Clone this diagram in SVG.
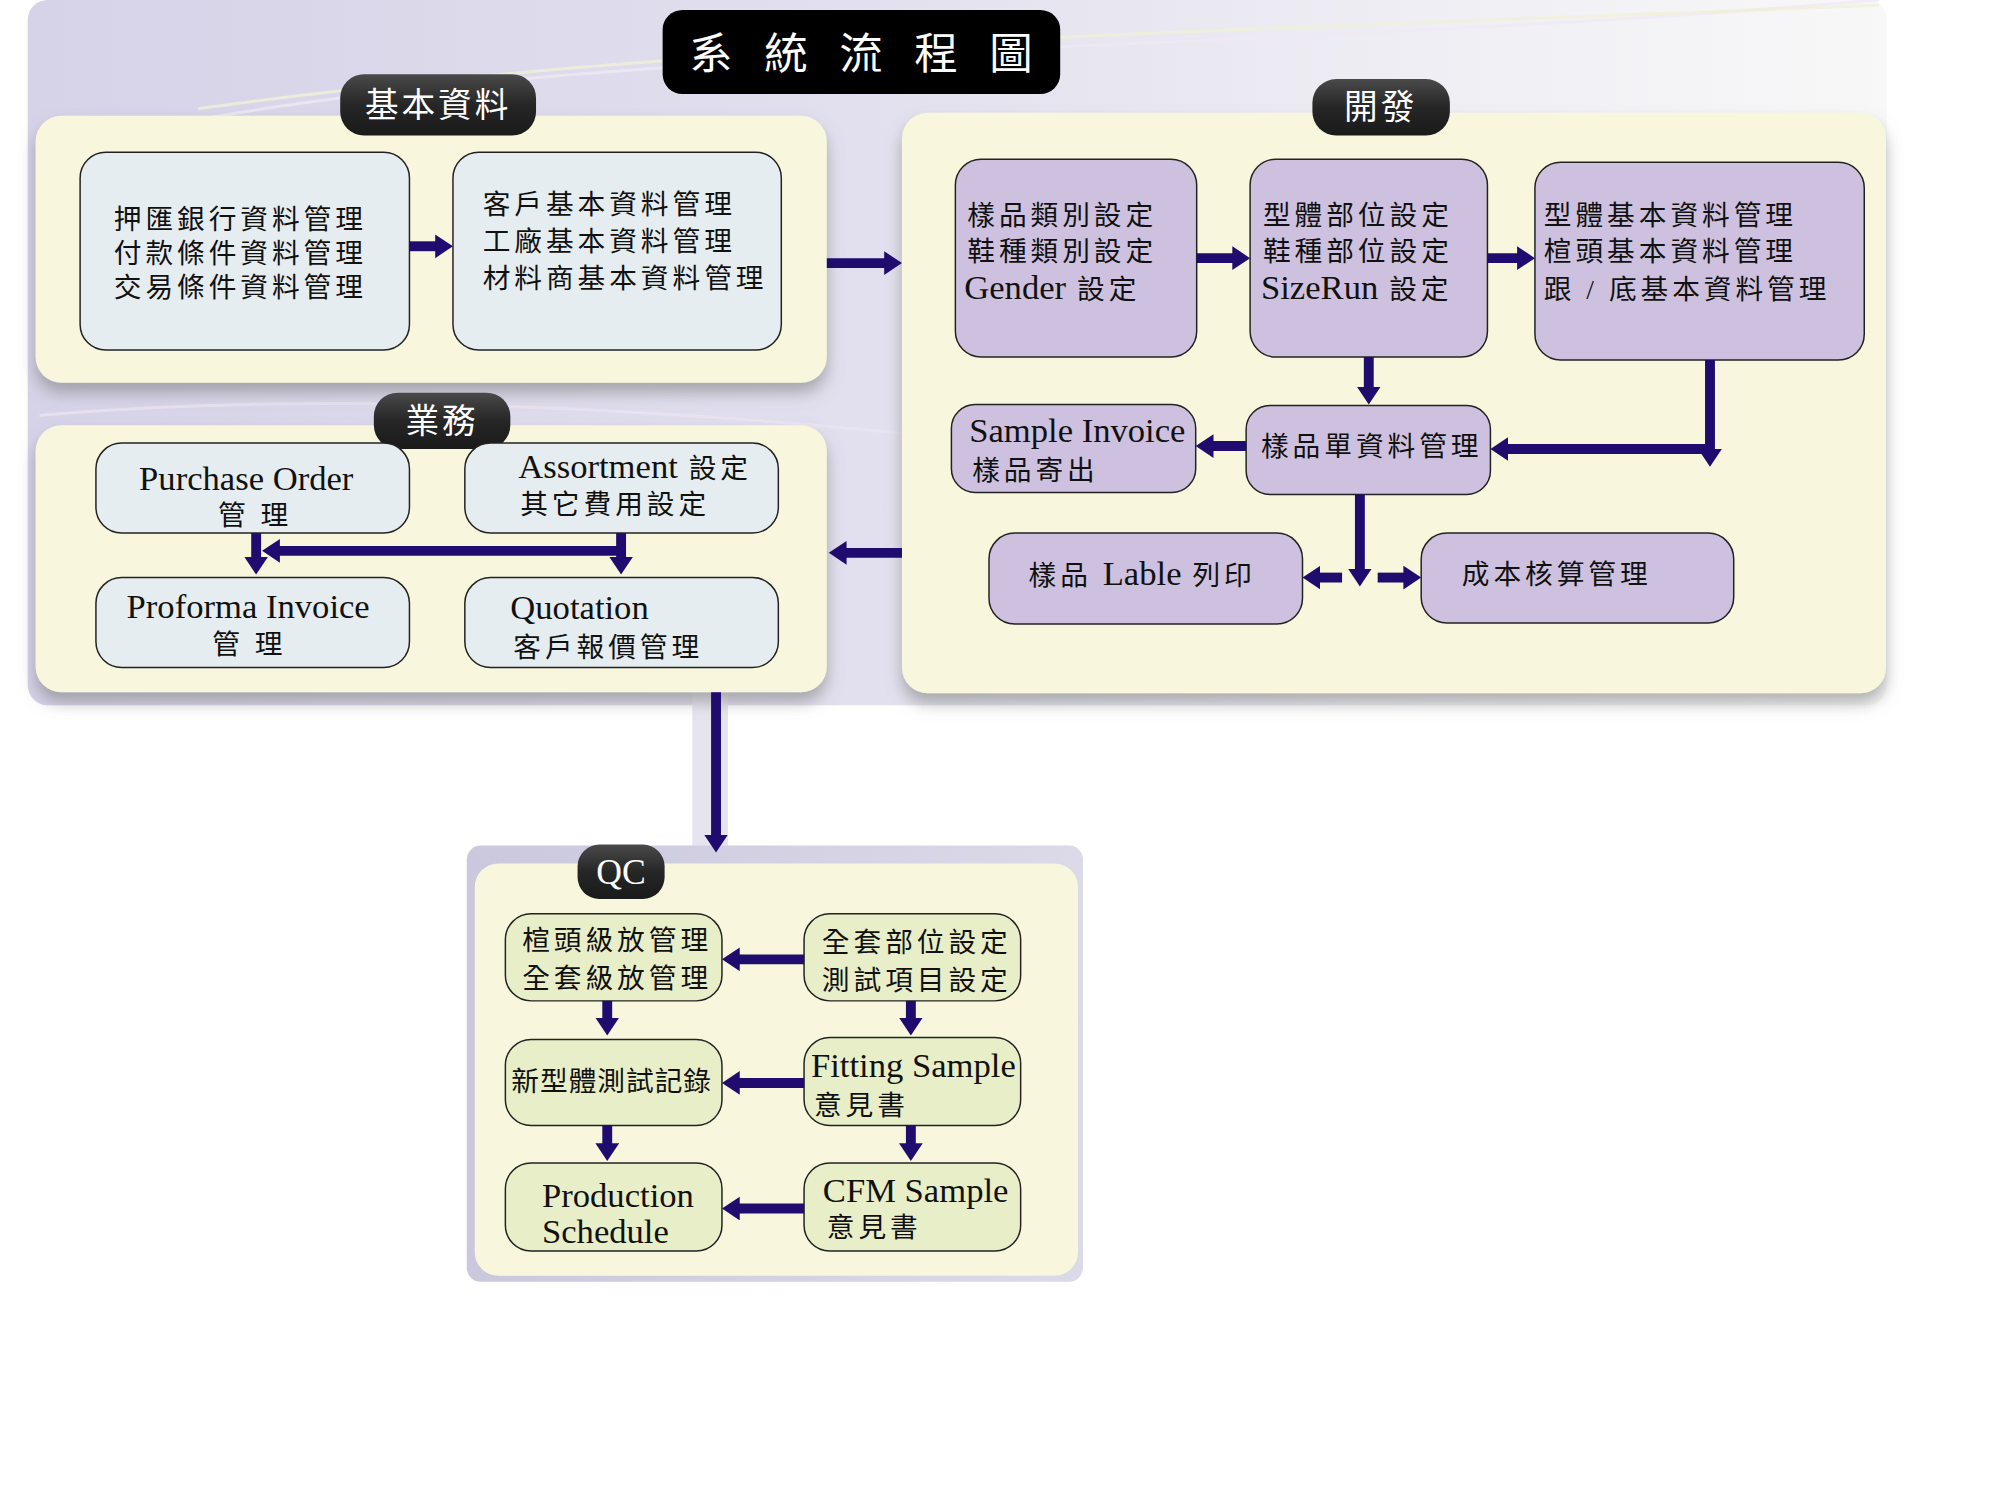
<svg xmlns="http://www.w3.org/2000/svg" width="2000" height="1500" viewBox="0 0 2000 1500">
<defs>
<style>
.t{font-family:"Liberation Serif","Noto Sans CJK TC",serif;fill:#111;}
.cj{font-size:28px;letter-spacing:4px;}
.la{font-size:35px;letter-spacing:0px;}
.tab{font-family:"Noto Sans CJK TC","Liberation Serif",sans-serif;fill:#fff;font-size:34px;letter-spacing:3px;text-anchor:middle;}
.panel{fill:#f8f7dd;}
.bb{fill:#e6edf0;stroke:#222;stroke-width:1.5;}
.pb{fill:#cdc1df;stroke:#222;stroke-width:1.5;}
.gb{fill:#e8eec8;stroke:#222;stroke-width:1.5;}
.ar{fill:none;stroke:#1f0c6e;stroke-width:10;marker-end:url(#ah);}
.tb{fill:url(#tabg);}
</style>
<marker id="ah" markerUnits="userSpaceOnUse" markerWidth="20" markerHeight="26" refX="2" refY="12" orient="auto"><path d="M0,0 L18,12 L0,24 z" fill="#1f0c6e"/></marker>
<linearGradient id="bg" x1="0" y1="0" x2="1" y2="0">
<stop offset="0" stop-color="#d6d2e8"/>
<stop offset="0.45" stop-color="#e2e0ee"/>
<stop offset="0.75" stop-color="#efeef4"/>
<stop offset="1" stop-color="#f8f8f8"/>
</linearGradient>
<linearGradient id="tabg" x1="0" y1="0" x2="0" y2="1">
<stop offset="0" stop-color="#4a4a4a"/>
<stop offset="0.5" stop-color="#262626"/>
<stop offset="1" stop-color="#1a1a1a"/>
</linearGradient>
<linearGradient id="qcg" x1="0" y1="0" x2="1" y2="0">
<stop offset="0" stop-color="#cbc8de"/>
<stop offset="1" stop-color="#dcdae8"/>
</linearGradient>
<filter id="sh" x="-10%" y="-10%" width="120%" height="130%">
<feDropShadow dx="0" dy="10" stdDeviation="8" flood-color="#777" flood-opacity="0.55"/>
</filter>
</defs>

<rect width="2000" height="1500" fill="#fff"/>
<g id="diagram" transform="scale(0.989)">
<g id="background">
<rect x="28" y="0" width="1880" height="713" rx="20" fill="url(#bg)"/>
<path d="M60,150 C500,40 1200,60 1900,0" fill="none" stroke="#efe8f4" stroke-width="3" opacity="0.8"/>
<path d="M200,110 C700,40 1300,30 1900,5" fill="none" stroke="#f0f0d8" stroke-width="3" opacity="0.8"/>
<path d="M40,420 C500,380 1200,440 1900,600" fill="none" stroke="#ece6f2" stroke-width="3" opacity="0.7"/>
<rect x="700" y="700" width="36" height="160" fill="#e6e4ef"/>
</g>

<g id="title">
<rect x="670" y="10" width="402" height="85" rx="20" fill="#000"/>
<text x="876" y="70" font-family="Noto Sans CJK TC, sans-serif" font-size="44" fill="#fff" text-anchor="middle" letter-spacing="11">系 統 流 程 圖</text>
</g>

<g id="panel-basic">
<rect x="36" y="117" width="800" height="270" rx="26" class="panel" filter="url(#sh)"/>
<rect x="344" y="75" width="198" height="62" rx="24" class="tb"/>
<text x="443" y="118" class="tab">基本資料</text>
</g>

<g id="panel-dev">
<rect x="912" y="114" width="995" height="587" rx="26" class="panel" filter="url(#sh)"/>
<rect x="1327" y="80" width="139" height="57" rx="24" class="tb"/>
<text x="1396" y="120" class="tab">開發</text>
</g>

<g id="panel-biz">
<rect x="36" y="430" width="800" height="270" rx="26" class="panel" filter="url(#sh)"/>
<rect x="378" y="397" width="138" height="57" rx="24" class="tb"/>
<text x="447" y="438" class="tab">業務</text>
</g>

<g id="panel-qc">
<rect x="472" y="855" width="623" height="441" rx="14" fill="url(#qcg)"/>
<rect x="480" y="873" width="610" height="417" rx="24" class="panel"/>
<rect x="584" y="854" width="88" height="55" rx="22" class="tb"/>
<text x="628" y="894" class="tab" style="font-family:'Liberation Serif',serif;font-size:36px;letter-spacing:0px">QC</text>
</g>

<g id="n-bank">
<rect x="81" y="154" width="333" height="200" rx="26" class="bb"/>
<text class="t cj" x="115" y="232">押匯銀行資料管理</text>
<text class="t cj" x="115" y="266">付款條件資料管理</text>
<text class="t cj" x="115" y="300">交易條件資料管理</text>
</g>
<g id="n-customer">
<rect x="458" y="154" width="332" height="200" rx="26" class="bb"/>
<text class="t cj" x="488" y="216">客戶基本資料管理</text>
<text class="t cj" x="488" y="254">工廠基本資料管理</text>
<text class="t cj" x="488" y="291">材料商基本資料管理</text>
</g>

<g id="n-category">
<rect x="966" y="161" width="244" height="200" rx="26" class="pb"/>
<text class="t cj" x="978" y="227">樣品類別設定</text>
<text class="t cj" x="978" y="264">鞋種類別設定</text>
<text class="t cj" x="975" y="302"><tspan class="la">Gender</tspan> 設定</text>
</g>
<g id="n-parts">
<rect x="1264" y="161" width="240" height="200" rx="26" class="pb"/>
<text class="t cj" x="1277" y="227">型體部位設定</text>
<text class="t cj" x="1277" y="264">鞋種部位設定</text>
<text class="t cj" x="1275" y="302"><tspan class="la">SizeRun</tspan> 設定</text>
</g>
<g id="n-style">
<rect x="1552" y="164" width="333" height="200" rx="26" class="pb"/>
<text class="t cj" x="1561" y="227">型體基本資料管理</text>
<text class="t cj" x="1561" y="264">楦頭基本資料管理</text>
<text class="t cj" x="1561" y="302">跟 / 底基本資料管理</text>
</g>
<g id="n-sample-order">
<rect x="1260" y="410" width="247" height="90" rx="24" class="pb"/>
<text class="t cj" x="1275" y="461">樣品單資料管理</text>
</g>
<g id="n-sample-invoice">
<rect x="962" y="409" width="247" height="89" rx="24" class="pb"/>
<text class="t la" x="980" y="447">Sample Invoice</text>
<text class="t cj" x="983" y="485">樣品寄出</text>
</g>
<g id="n-label">
<rect x="1000" y="539" width="317" height="92" rx="26" class="pb"/>
<text class="t cj" x="1040" y="592">樣品 <tspan class="la">Lable</tspan> 列印</text>
</g>
<g id="n-cost">
<rect x="1437" y="539" width="316" height="91" rx="26" class="pb"/>
<text class="t cj" x="1478" y="591">成本核算管理</text>
</g>

<g id="n-po">
<rect x="97" y="448" width="317" height="91" rx="26" class="bb"/>
<text class="t la" x="249" y="495" text-anchor="middle">Purchase Order</text>
<text class="t cj" x="258" y="531" text-anchor="middle" letter-spacing="6">管 理</text>
</g>
<g id="n-assortment">
<rect x="470" y="448" width="317" height="91" rx="26" class="bb"/>
<text class="t cj" x="524" y="483"><tspan class="la">Assortment</tspan> 設定</text>
<text class="t cj" x="526" y="520">其它費用設定</text>
</g>
<g id="n-pi">
<rect x="97" y="584" width="317" height="91" rx="26" class="bb"/>
<text class="t la" x="128" y="625">Proforma Invoice</text>
<text class="t cj" x="252" y="661" text-anchor="middle" letter-spacing="6">管 理</text>
</g>
<g id="n-quotation">
<rect x="470" y="584" width="317" height="91" rx="26" class="bb"/>
<text class="t la" x="516" y="626">Quotation</text>
<text class="t cj" x="519" y="664">客戶報價管理</text>
</g>

<g id="n-grading">
<rect x="511" y="924" width="219" height="88" rx="26" class="gb"/>
<text class="t cj" x="528" y="961" letter-spacing="3.5">楦頭級放管理</text>
<text class="t cj" x="528" y="999" letter-spacing="3.5">全套級放管理</text>
</g>
<g id="n-fullparts">
<rect x="813" y="924" width="219" height="88" rx="26" class="gb"/>
<text class="t cj" x="831" y="963" letter-spacing="3.5">全套部位設定</text>
<text class="t cj" x="831" y="1001" letter-spacing="3.5">測試項目設定</text>
</g>
<g id="n-testrecord">
<rect x="511" y="1051" width="219" height="87" rx="26" class="gb"/>
<text class="t cj" x="517" y="1103" style="letter-spacing:1px">新型體測試記錄</text>
</g>
<g id="n-fitting">
<rect x="813" y="1049" width="219" height="89" rx="26" class="gb"/>
<text class="t la" x="820" y="1089">Fitting Sample</text>
<text class="t cj" x="823" y="1127">意見書</text>
</g>
<g id="n-production">
<rect x="511" y="1176" width="219" height="89" rx="26" class="gb"/>
<text class="t la" x="548" y="1220">Production</text>
<text class="t la" x="548" y="1257">Schedule</text>
</g>
<g id="n-cfm">
<rect x="813" y="1176" width="219" height="89" rx="26" class="gb"/>
<text class="t la" x="832" y="1215">CFM Sample</text>
<text class="t cj" x="836" y="1251">意見書</text>
</g>

<g id="connectors">
<path class="ar" d="M414,249 H442"/>
<path class="ar" d="M836,266 H896"/>
<path class="ar" d="M1210,261 H1248"/>
<path class="ar" d="M1504,261 H1536"/>
<path class="ar" d="M1384,361 V393"/>
<path class="ar" d="M1729,364 V456"/>
<path class="ar" d="M1724,454 H1523"/>
<path class="ar" d="M1260,451 H1225"/>
<path class="ar" d="M1375,500 V577"/>
<path class="ar" d="M1357,584 H1333"/>
<path class="ar" d="M1393,584 H1421"/>
<path class="ar" d="M912,559 H854"/>
<path class="ar" d="M259,539 V565"/>
<path class="ar" d="M628,539 V565"/>
<path class="ar" d="M628,557 H281"/>
<path class="ar" d="M724,700 V846"/>
<path class="ar" d="M813,970 H746"/>
<path class="ar" d="M813,1095 H746"/>
<path class="ar" d="M813,1222 H746"/>
<path class="ar" d="M614,1012 V1031"/>
<path class="ar" d="M921,1012 V1031"/>
<path class="ar" d="M614,1138 V1158"/>
<path class="ar" d="M921,1138 V1158"/>
</g>
</g>
</svg>
